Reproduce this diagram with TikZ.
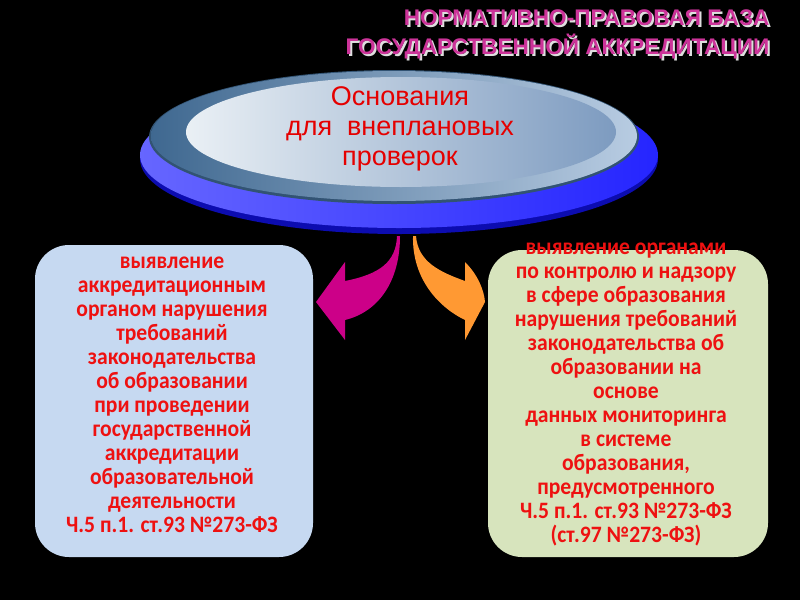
\documentclass[tikz,border=0pt]{standalone}
\usepackage{fontspec}
\setmainfont{Liberation Sans}
\newfontfamily\boxfont[FakeStretch=0.92]{Carlito}
\newfontfamily\titlefont{Liberation Sans}
\usetikzlibrary{shapes.geometric}
\definecolor{titlemag}{HTML}{CC3399}
\definecolor{boxred}{HTML}{EE1111}
\definecolor{lbluebox}{HTML}{C6D9F1}
\definecolor{lgreenbox}{HTML}{D7E4BD}
\definecolor{arrmag}{HTML}{CC0088}
\definecolor{arrorg}{HTML}{FF9933}
\definecolor{ringL}{HTML}{3F6890}
\definecolor{ringR}{HTML}{B8CCE2}
\definecolor{innL}{HTML}{EAF0F5}
\definecolor{innR}{HTML}{7D9BC0}
\definecolor{diskL}{HTML}{6666FF}
\definecolor{diskR}{HTML}{2525FF}
\definecolor{diskD}{HTML}{0C0CB0}
\tikzset{
  boxtext/.style={align=center, text=boxred, font=\boxfont\bfseries\fontsize{23.5}{24}\selectfont},
  titletext/.style={anchor=east, font=\titlefont\bfseries\fontsize{22.6}{24}\selectfont},
  elltext/.style={align=center, text=red!90!black, font=\fontsize{27}{30}\selectfont},
  roundbox/.style={rounded corners=34pt}
}
\begin{document}
\begin{tikzpicture}[x=1pt,y=-1pt]
\fill[black] (0,0) rectangle (800,600);
\useasboundingbox (0,0) rectangle (800,600);
% title
\node[titletext, text=gray!25] (t1s) at (775,20) {НОРМАТИВНО-ПРАВОВАЯ БАЗА};
\node[titletext, text=titlemag] (t1) at (773,18) {НОРМАТИВНО-ПРАВОВАЯ БАЗА};
\node[titletext, text=gray!25] (t2s) at (775,49) {ГОСУДАРСТВЕННОЙ АККРЕДИТАЦИИ};
\node[titletext, text=titlemag] (t2) at (773,47) {ГОСУДАРСТВЕННОЙ АККРЕДИТАЦИИ};
% blue disk
\fill[diskD] (399,159) ellipse [x radius=259, y radius=75];
\shade[left color=diskL, right color=diskR] (399,155) ellipse [x radius=259, y radius=73];
% ring
\fill[ringL!80!black] (394,137) ellipse [x radius=245, y radius=67];
\shade[left color=ringL, right color=ringR] (394,136) ellipse [x radius=243, y radius=65];
% inner light ellipse
\shade[left color=innL, right color=innR] (401,132) ellipse [x radius=215, y radius=55];
\node[elltext] (head) at (400,129) {Основания\\для\ \ внеплановых\\проверок};
% boxes
\fill[lbluebox, roundbox] (35,245) rectangle (313,557);
\fill[lgreenbox, roundbox] (488,250) rectangle (768,557);
\node[boxtext] (lt) at (172,395) {выявление\\аккредитационным\\органом нарушения\\требований\\законодательства\\об образовании\\при проведении\\государственной\\аккредитации\\образовательной\\деятельности\\Ч.5 п.1. ст.93 №273-ФЗ};
\node[boxtext] (rt) at (626,394) {выявление органами\\по контролю и надзору\\в сфере образования\\нарушения требований\\законодательства об\\образовании на\\основе\\данных мониторинга\\в системе\\образования,\\предусмотренного\\Ч.5 п.1. ст.93 №273-ФЗ\\(ст.97 №273-ФЗ)};
% arrows
\fill[arrmag] (397,236) .. controls (396,262) and (380,274) .. (345,281)
  -- (345,262) -- (316,302) -- (345,340) -- (345,320)
  .. controls (378,312) and (400,282) .. (400,236) -- cycle;
\fill[arrorg] (413,236) .. controls (412,280) and (440,308) .. (465,320)
  -- (465,340) -- (485,302) .. controls (484,290) and (478,275) .. (465,262)
  -- (465,281) .. controls (440,272) and (418,262) .. (416,236) -- cycle;
\end{tikzpicture}
\end{document}
